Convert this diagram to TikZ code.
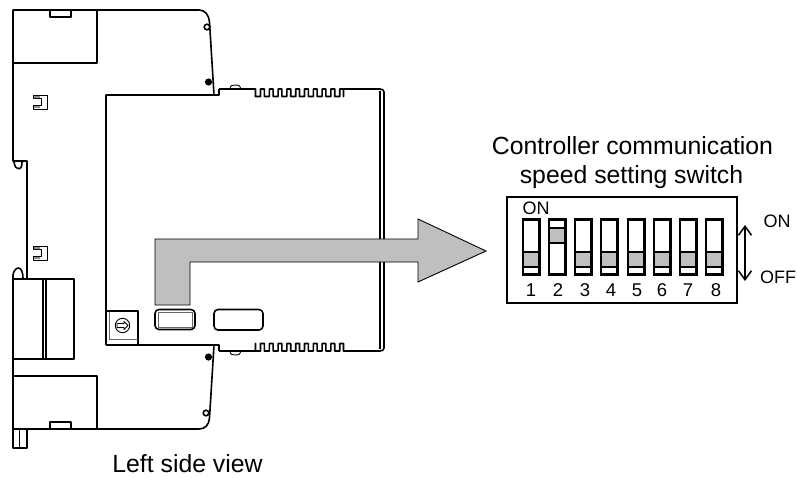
\documentclass[tikz,border=0pt]{standalone}
\usepackage{fontspec}
\setmainfont{Liberation Sans}
\usetikzlibrary{arrows.meta}
\tikzset{
  ln/.style={draw=black,line width=1.6pt,line join=round},
  thin ln/.style={draw=black,line width=0.9pt,line join=round},
  gry/.style={fill=black!25,draw=black,line width=0.8pt},
  lab/.style={font=\fontsize{24.8}{29}\selectfont,inner sep=0pt,anchor=base},
  sml/.style={font=\fontsize{18}{22}\selectfont,inner sep=0pt,anchor=base},
  num/.style={font=\fontsize{18.5}{22}\selectfont,inner sep=0pt,anchor=base},
}
\newcommand{\clipmark}[1]{%
  \begin{scope}[shift={(33,#1)}]
    \draw[thin ln] (0,0) -- (14,0) -- (14,14) -- (0,14) -- (0,10.5) -- (8,10.5) -- (8,3.5) -- (0,3.5) -- cycle;
    \fill[black!45] (1,1) rectangle (7,3) (1,11) rectangle (7,13);
  \end{scope}}
\newcommand{\dipsw}[4]{%
  \draw[draw=black,fill=white,line width=2.2pt] (#1,219.5) rectangle (#1+16.5,274.5);
  \draw[gry,line width=2.2pt] (#1,#2) rectangle (#1+16.5,#2+15);
  \node[num] (n#3) at (#4,296) {#3};}
\begin{document}
\begin{tikzpicture}[x=1pt,y=-1pt]
\useasboundingbox (0,0) rectangle (797,477);
% upper body
\draw[ln] (106,345) -- (106,95) -- (214,95) -- (209.5,22) .. controls (209,15) and (205,10) .. (199,10) -- (13,10) -- (13,161) -- (27,161) -- (27,279);
\draw[ln] (13,63) -- (97,63) -- (97,10);
\draw[ln] (50,10) -- (50,17) -- (71,17) -- (71,10);
\draw[ln,fill=white] (207,27) circle (2.8);
\fill (208.5,82) circle (3.6);
\draw[ln] (214,95) -- (219,95) -- (219,89);
% hook upper
\draw[ln] (14,162) .. controls (15,167) and (16,168.5) .. (18,168.5) -- (20,168.5) .. controls (21,168.5) and (22,166) .. (22,162);
\clipmark{95}
\clipmark{246}
% lower body
\draw[ln] (13,279) -- (13,448) -- (27,448) -- (27,429);
\draw[ln] (19.5,429) -- (19.5,448);
\draw[ln] (13,279) .. controls (12,274) and (15,268) .. (18,268) .. controls (21,268) and (23,271) .. (23,279);
\draw[ln] (13,279) rectangle (74,359);
\draw[ln] (43,279) -- (43,359) (46,279) -- (46,359);
\draw[ln] (13,376) -- (97,376) -- (97,429);
\draw[ln] (13,429) -- (199,429) .. controls (205,429) and (209,425) .. (209.5,418) -- (214,345) -- (106,345);
\draw[ln] (50,429) -- (50,422) -- (71,422) -- (71,429);
\draw[ln,fill=white] (206,413) circle (2.8);
\fill (208.5,357) circle (3.6);
\draw[ln] (214,345) -- (219,345) -- (219,351);
% right part outline with fins
\draw[ln] (219,89) -- (255.5,89)
  \foreach \i in {0,...,9} { -- ++(0,7.5) -- ++(5,0) -- ++(0,-7.5) -- ++(3.8,0) }
  -- ++(0,7.5) -- ++(0,-7.5) -- (380,89) .. controls (382,89) and (384,90) .. (384,92) -- (384,348) .. controls (384,350) and (382,351) .. (380,351) -- (343.5,351)
  \foreach \i in {0,...,9} { -- ++(0,-7.5) -- ++(-3.8,0) -- ++(0,7.5) -- ++(-5,0) }
  -- ++(0,-7.5) -- ++(0,7.5) -- (219,351);
\draw[ln] (380,91) -- (380,349);
\draw[thin ln] (230,89) .. controls (230,85.5) and (232,85) .. (235,85) .. controls (239,85) and (241,86) .. (241,89);
\draw[thin ln] (230,351) .. controls (230,354.5) and (232,355) .. (235,355) .. controls (239,355) and (241,354) .. (241,351);
% rotary
\draw[ln] (106,311) -- (138,311) -- (138,345);
\draw[draw=black!60,line width=0.8pt] (109,312) -- (109,339) -- (138,339);
\draw[thin ln] (122.5,325.5) circle (7.2);
\draw[thin ln] (117,323.5) -- (124,323.5) -- (124,321.5) -- (128,325.5) -- (124,329.5) -- (124,327.5) -- (117,327.5) -- cycle;
% buttons
\draw[ln,rounded corners=4pt] (155,309.5) rectangle (195,329.5);
\draw[draw=black!60,line width=0.9pt] (158,312) rectangle (192,327);
\draw[ln,rounded corners=4pt] (214,309.5) rectangle (263,330);
% big arrow
\draw[fill=black!25,draw=black,line width=0.9pt] (155,305) -- (155,239) -- (418,239) -- (418,219) -- (486,251) -- (418,282) -- (418,262) -- (190,262) -- (190,305) -- cycle;
% DIP
\draw[draw=black,line width=2.2pt] (507,197) rectangle (737,303);
\dipsw{523}{252}{1}{531}
\dipsw{549}{228}{2}{558}
\dipsw{575}{252}{3}{585}
\dipsw{601}{252}{4}{611}
\dipsw{628}{252}{5}{637}
\dipsw{654}{252}{6}{662}
\dipsw{680}{252}{7}{688}
\dipsw{706}{252}{8}{716}
\node[sml] (onsw) at (536,214) {ON};
\coordinate (aon) at (745,225);
\coordinate (aoff) at (745,281);
\draw[{Straight Barb[length=9pt,width=13pt]}-{Straight Barb[length=9pt,width=13pt]},line width=1.5pt] (aon) -- (aoff);
\node[sml] (on) at (777,227) {ON};
\node[sml] (off) at (778,283) {OFF};
\node[lab] (t1) at (632.5,154) {Controller communication};
\node[lab] (t2) at (631.5,183) {speed setting switch};
\node[lab] (lsv) at (187.5,472.5) {Left side view};
\end{tikzpicture}
\end{document}
